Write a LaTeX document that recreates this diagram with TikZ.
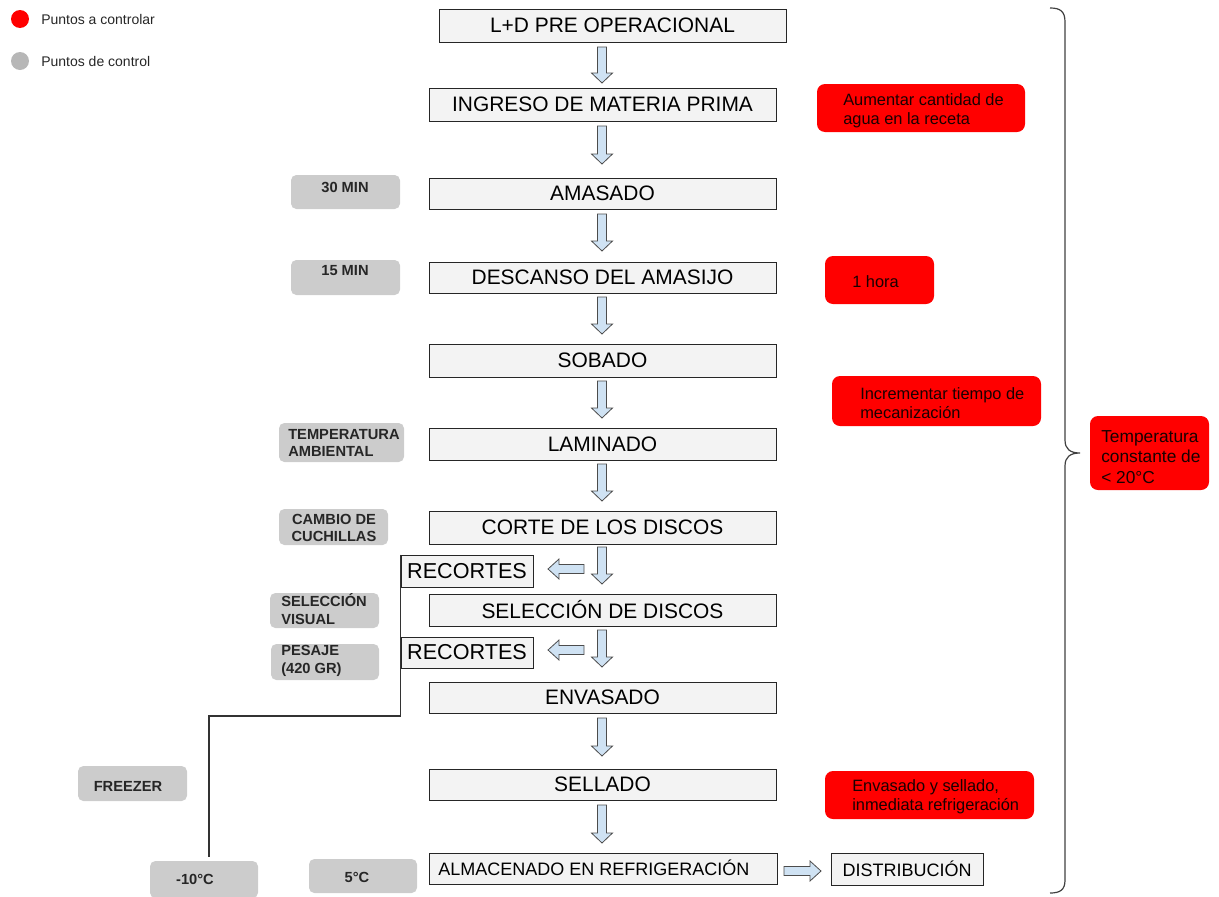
\documentclass[tikz,border=0pt]{standalone}
\usepackage{fontspec}
\setmainfont{Liberation Sans}
\definecolor{mainfill}{HTML}{F3F3F3}
\definecolor{arrfill}{HTML}{CFE2F3}
\definecolor{grayfill}{HTML}{CCCCCC}
\definecolor{leggray}{HTML}{B7B7B7}
\definecolor{redfill}{HTML}{FF0000}
\definecolor{lineg}{HTML}{333333}
\newcommand\bx[7]{\node[#6,minimum width={(#4-#2)*0.75pt},minimum height={(#5-#3)*0.75pt}] (#1) at ({(#2+#4)/2},{(#3+#5)/2}) {#7};}
\newcommand\darr[3]{\draw[blk] ({#1-4.5},#2) -- ({#1+4.5},#2) -- ({#1+4.5},{#3-10}) -- ({#1+10.5},{#3-10}) -- (#1,#3) -- ({#1-10.5},{#3-10}) -- ({#1-4.5},{#3-10}) -- cycle;}
\newcommand\larr[3]{\draw[blk] (#2,{#3-4.5}) -- ({#1+11},{#3-4.5}) -- ({#1+11},{#3-10}) -- (#1,#3) -- ({#1+11},{#3+10}) -- ({#1+11},{#3+4.5}) -- (#2,{#3+4.5}) -- cycle;}
\newcommand\rarr[3]{\draw[blk] (#1,{#3-4.5}) -- ({#2-11},{#3-4.5}) -- ({#2-11},{#3-10}) -- (#2,#3) -- ({#2-11},{#3+10}) -- ({#2-11},{#3+4.5}) -- (#1,{#3+4.5}) -- cycle;}
\tikzset{
  mainbox/.style={draw=black!85,fill=mainfill,line width=0.75pt,inner sep=0pt,font=\fontsize{15.7}{18}\selectfont},
  smallmain/.style={mainbox,font=\fontsize{13.5}{16}\selectfont},
  redbox/.style={fill=redfill,rounded corners=6pt,inner sep=0pt},
  graybox/.style={fill=grayfill,rounded corners=4pt,inner sep=0pt},
  rtext/.style={font=\fontsize{12.3}{14.5}\selectfont,align=left,inner sep=0pt,text=black!90!red},
  gtext/.style={font=\fontsize{11}{13}\selectfont\bfseries,inner sep=0pt,text=black!85},
  blk/.style={draw=black!70,fill=arrfill,line width=0.6pt,line join=miter},
  conn/.style={draw=lineg,line width=0.9pt},
  legtext/.style={font=\fontsize{10.5}{12}\selectfont,anchor=west,inner sep=0pt,text=black!85}
}
\begin{document}
\begin{tikzpicture}[x=0.75pt,y=-0.75pt]
\useasboundingbox (0,0) rectangle (1219,896);
% legend
\fill[redfill] (20,19) circle (9);
\node[legtext] (leg1) at (41,19) {Puntos a controlar};
\fill[leggray] (20,61) circle (9);
\node[legtext] (leg2) at (41,61) {Puntos de control};
% main boxes
\bx{b1}{439}{9}{786}{42}{mainbox}{L+D PRE OPERACIONAL}
\bx{b2}{429}{88}{776}{121}{mainbox}{INGRESO DE MATERIA PRIMA}
\bx{b3}{429}{178}{776}{209}{mainbox}{AMASADO}
\bx{b4}{429}{262}{776}{293}{mainbox}{DESCANSO DEL AMASIJO}
\bx{b5}{429}{344}{776}{377}{mainbox}{SOBADO}
\bx{b6}{429}{428}{776}{460}{mainbox}{LAMINADO}
\bx{b7}{429}{511}{776}{544}{mainbox}{CORTE DE LOS DISCOS}
\bx{b8}{429}{594}{776}{626}{mainbox}{SELECCIÓN DE DISCOS}
\bx{b9}{429}{682}{776}{713}{mainbox}{ENVASADO}
\bx{b10}{429}{769}{776}{800}{mainbox}{SELLADO}
\bx{b11}{429}{853}{777}{884}{mainbox}{}
\node[font=\fontsize{13.5}{16}\selectfont,anchor=west,inner sep=0pt] (b11t) at (438,868) {ALMACENADO EN REFRIGERACIÓN};
\bx{b12}{831}{853}{983}{885}{smallmain}{DISTRIBUCIÓN}
\bx{rec1}{401}{555}{533}{587}{mainbox}{\fontsize{16.2}{18}\selectfont RECORTES}
\bx{rec2}{401}{637}{533}{668}{mainbox}{\fontsize{16.2}{18}\selectfont RECORTES}
% block arrows
\darr{602}{47}{83}
\darr{602}{126}{164}
\darr{602}{214}{251}
\darr{602}{297}{334}
\darr{602}{381}{418}
\darr{602}{464}{501}
\darr{602}{547}{584}
\darr{602}{630}{667}
\darr{602}{718}{756}
\darr{602}{805}{843}
\larr{548}{584}{569}
\larr{548}{584}{650}
\rarr{784}{821}{871}
% red boxes
\bx{r1}{817}{84}{1025}{132}{redbox}{}
\node[rtext,anchor=west] (r1t) at (843,111) {Aumentar cantidad de\\agua en la receta};
\bx{r2}{825}{256}{934}{304}{redbox}{}
\node[rtext,anchor=west] (r2t) at (852,282) {1 hora};
\bx{r3}{832}{376}{1041}{426}{redbox}{}
\node[rtext,anchor=west] (r3t) at (860,403) {Incrementar tiempo de\\mecanización};
\bx{r4}{825}{771}{1034}{819}{redbox}{}
\node[rtext,anchor=west] (r4t) at (852,797) {Envasado y sellado,\\inmediata refrigeración};
\bx{r5}{1090}{416}{1209}{490}{redbox}{}
\node[rtext,anchor=west,font=\fontsize{13}{15.5}\selectfont] (r5t) at (1101,457) {Temperatura\\constante de\\< 20°C};
% gray boxes
\bx{g1}{291}{175}{400}{209}{graybox}{}
\node[gtext] (g1t) at (345,187) {30 MIN};
\bx{g2}{291}{260}{400}{295}{graybox}{}
\node[gtext] (g2t) at (345,271) {15 MIN};
\bx{g3}{279}{423}{404}{462}{graybox}{}
\node[gtext,anchor=west,align=left] (g3t) at (288,443) {TEMPERATURA\\AMBIENTAL};
\bx{g4}{279}{509}{388}{545}{graybox}{}
\node[gtext,align=center] (g4t) at (334,528) {CAMBIO DE\\CUCHILLAS};
\bx{g5}{270}{593}{379}{628}{graybox}{}
\node[gtext,anchor=west,align=left] (g5t) at (281,609) {SELECCIÓN\\VISUAL};
\bx{g6}{271}{644}{379}{680}{graybox}{}
\node[gtext,anchor=west,align=left] (g6t) at (281,661) {PESAJE\\(420 GR)};
\bx{g7}{78}{766}{187}{801}{graybox}{}
\node[gtext] (g7t) at (128,786) {FREEZER};
\bx{g8}{150}{861}{258}{898}{graybox}{}
\node[gtext] (g8t) at (195,879) {-10°C};
\bx{g9}{309}{859}{417}{893}{graybox}{}
\node[gtext] (g9t) at (357,877) {5°C};
% connector line
\coordinate (bend) at (209,716);
\coordinate (lend) at (209,857);
\draw[conn] (rec1.north west) |- (bend) -- (lend);
% brace
\draw[draw=black!75,line width=0.9pt] (1050,8) .. controls (1060,8) and (1065,11) .. (1065,22) -- (1065,440) .. controls (1065,449) and (1070,453) .. (1080,453) .. controls (1070,453) and (1065,457) .. (1065,466) -- (1065,880) .. controls (1065,890) and (1060,893) .. (1050,893);
\end{tikzpicture}
\end{document}
